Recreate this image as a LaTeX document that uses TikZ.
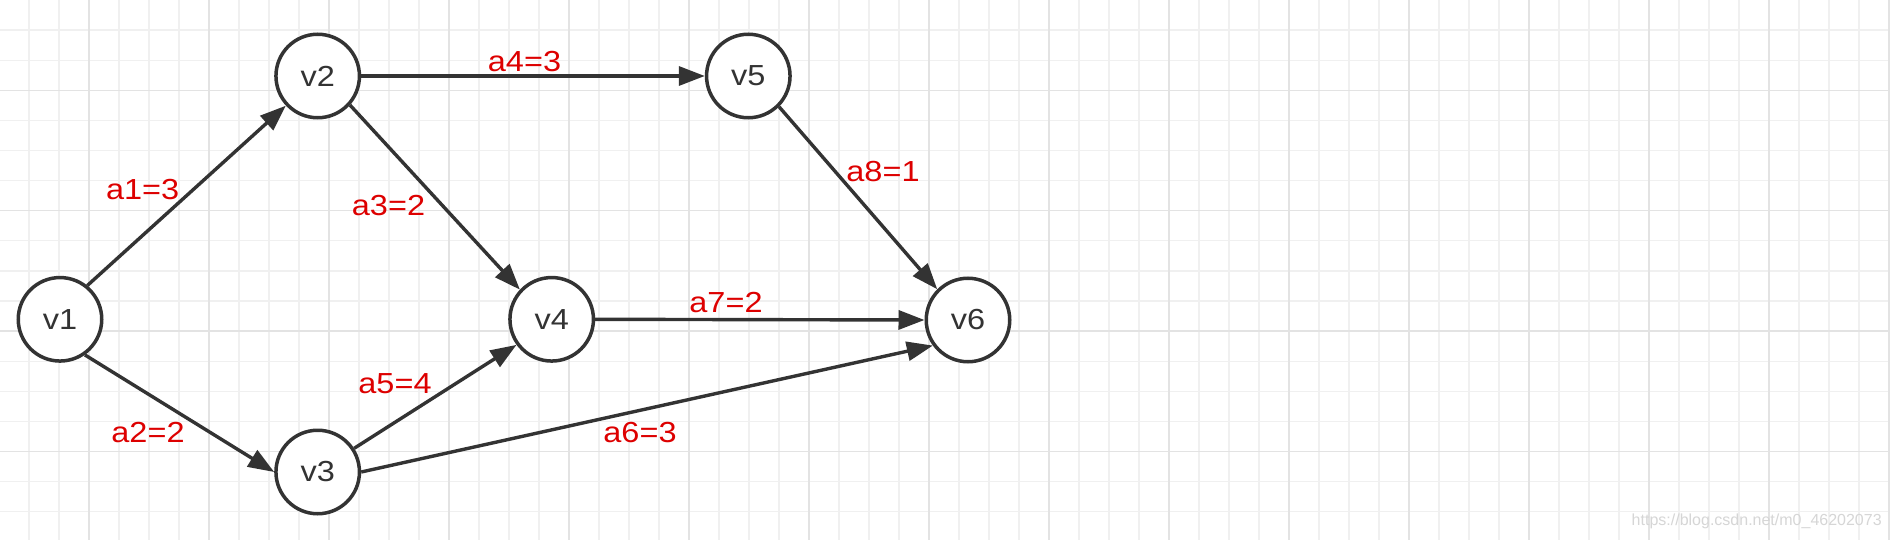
\documentclass[tikz,border=0pt]{standalone}
\usepackage{fontspec}
\setmainfont{Liberation Sans}
\newfontfamily\lblfont[FakeStretch=1.12]{Liberation Sans}
\usetikzlibrary{arrows.meta}
\definecolor{ink}{HTML}{333333}
\definecolor{lblred}{HTML}{DD0000}
\definecolor{gridminor}{HTML}{F0F0F0}
\definecolor{gridmajor}{HTML}{E3E3E3}
\definecolor{wm}{HTML}{D6D6D6}
\tikzset{
  vertex/.style={circle, draw=ink, line width=3.5pt, fill=white, minimum size=83.5pt,
    inner sep=0pt, text=ink, font=\lblfont\fontsize{29}{33}\selectfont},
  edge/.style={draw=ink, line width=3.4pt, -{Triangle[length=26pt,width=19pt]}},
  weight/.style={text=lblred, inner sep=0pt, font=\lblfont\fontsize{29}{33}\selectfont},
  gminor/.style={draw=gridminor, line width=1.3pt},
  gmajor/.style={draw=gridmajor, line width=1.5pt},
}
\begin{document}
\begin{tikzpicture}[x=1pt,y=-1pt]
\useasboundingbox (0,0) rectangle (1890,540);
\fill[white] (0,0) rectangle (1890,540);
% grid
\foreach \k in {0,...,62} { \draw[gminor] (29+30*\k,0) -- (29+30*\k,540); }
\foreach \k in {1,...,17} { \draw[gminor] (0,30.1*\k) -- (1890,30.1*\k); }
\foreach \k in {0,...,15} { \draw[gmajor] (89+120*\k,0) -- (89+120*\k,540); }
\foreach \k in {3,7,11,15} { \draw[gmajor] (0,30.1*\k) -- (1890,30.1*\k); }
% vertices
\node[vertex] (v1) at (60,319.3) {v1};
\node[vertex] (v2) at (317.7,76) {v2};
\node[vertex] (v3) at (317.7,472) {v3};
\node[vertex] (v4) at (551.7,319.3) {v4};
\node[vertex] (v5) at (748.3,76) {v5};
\node[vertex] (v6) at (968,320) {v6};
% edges
\draw[edge] (v1.51) -- (v2.223);
\draw[edge] (v1.-55) -- (v3.west);
\draw[edge] (v2.-42) -- (v4.137);
\draw[edge] (v2.east) -- (v5.west);
\draw[edge] (v3.33) -- (v4.216);
\draw[edge] (v3.east) -- (v6.216);
\draw[edge] (v4.east) -- (v6.west);
\draw[edge] (v5.-45) -- (v6.135);
% weights
\node[weight] (w1) at (142.7,190) {a1=3};
\node[weight] (w2) at (148,433) {a2=2};
\node[weight] (w3) at (388.5,206) {a3=2};
\node[weight] (w4) at (524.5,62) {a4=3};
\node[weight] (w5) at (395,384) {a5=4};
\node[weight] (w6) at (640,433) {a6=3};
\node[weight] (w7) at (726,303) {a7=2};
\node[weight] (w8) at (883,172) {a8=1};
% watermark
\node[text=wm, inner sep=0pt, font=\fontsize{16}{18}\selectfont] (wmark) at (1756.7,521.7) {https://blog.csdn.net/m0\_46202073};
\end{tikzpicture}
\end{document}
